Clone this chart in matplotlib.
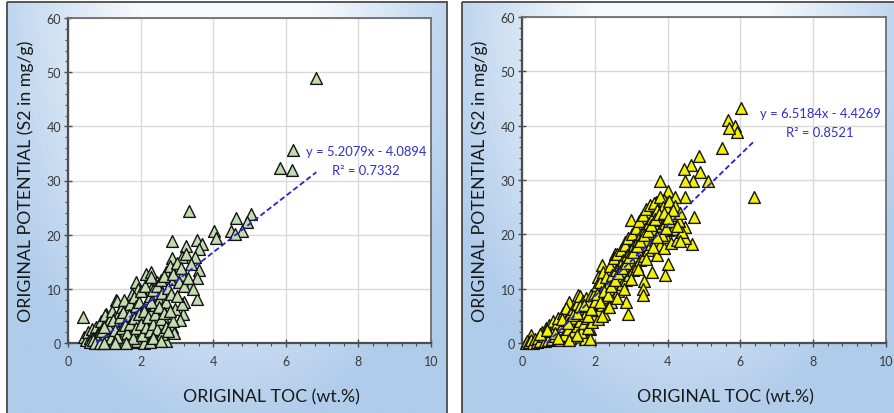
import numpy as np
import matplotlib
matplotlib.use("Agg")
import matplotlib.pyplot as plt
from matplotlib.patches import Rectangle

plt.rcParams['font.family'] = ['Lato', 'DejaVu Sans']

# ---------------- data ----------------
left_x = [6.84, 6.21, 5.84, 6.16, 3.33, 5.03, 4.63, 4.94, 4.03, 4.08, 4.49, 4.80, 4.60,
          2.87, 3.54, 3.24, 3.70, 3.60, 2.87, 3.13, 3.51, 3.61, 3.54, 3.54, 3.20, 3.16,
          3.08, 2.87, 2.92, 2.69, 3.13, 3.36, 2.71, 2.80, 1.87, 2.16, 2.30, 2.44, 1.33,
          0.41, 1.04, 1.77, 2.30, 1.93,
          0.45, 0.50, 0.55, 0.60, 0.62, 0.65, 0.70, 0.72, 0.75, 0.78, 0.80, 0.82, 0.85,
          0.88, 0.90, 0.92, 0.95, 0.98, 1.00, 1.02, 1.05, 1.08, 1.10, 1.12, 1.15, 1.18,
          1.20, 1.22, 1.25, 1.28, 1.30, 1.32, 1.35, 1.38, 1.40, 1.42, 1.45, 1.48, 1.50,
          1.52, 1.55, 1.58, 1.60, 1.62, 1.65, 1.68, 1.70, 1.72, 1.75, 1.78, 1.80, 1.82,
          1.85, 1.88, 1.90, 1.92, 1.95, 1.98, 2.00, 2.02, 2.05, 2.08, 2.10, 2.12, 2.15,
          2.18, 2.20, 2.22, 2.25, 2.28, 2.30, 2.32, 2.35, 2.38, 2.40, 2.42, 2.45, 2.48,
          2.50, 2.52, 2.55, 2.58, 2.60, 2.62, 2.65, 2.70, 2.75, 2.80, 2.85, 2.90, 2.95,
          3.00, 3.05, 3.10, 3.15, 3.20, 3.25, 3.30, 3.40, 3.45,
          0.95, 1.15, 1.25, 1.40, 1.55, 1.75, 1.90, 2.10,
          1.05, 1.12, 1.18, 1.25, 1.30, 1.35, 1.42, 1.48, 1.52, 1.58, 1.62, 1.68, 1.72,
          1.78, 1.82, 1.88, 1.95, 2.00, 2.05, 2.10, 2.15, 2.20, 2.25, 2.30, 2.35, 2.40,
          2.45, 2.50, 2.55, 2.60, 2.65, 2.70, 0.70, 0.85, 0.95, 1.00, 0.60, 0.68, 0.75,
          0.88, 1.00, 1.30, 1.60, 2.25, 2.35, 2.55, 2.75, 2.90, 3.00, 2.80]
left_y = [49.0, 35.7, 32.3, 32.0, 24.3, 23.8, 23.0, 22.3, 20.6, 19.4, 20.6, 20.6, 20.2,
          18.8, 19.1, 18.0, 18.3, 17.3, 15.7, 15.9, 15.9, 13.4, 12.0, 8.2, 7.6, 5.4,
          4.2, 3.0, 1.8, 0.4, 12.5, 10.6, 13.1, 11.9, 11.2, 12.8, 13.1, 11.2, 8.0,
          4.8, 5.3, 9.1, 9.9, 10.0,
          1.2, 0.5, 2.0, 1.0, 0.3, 2.6, 1.5, 0.2, 0.8, 3.0, 0.1, 1.8, 0.5,
          2.4, 0.3, 4.0, 1.2, 3.3, 0.6, 5.2, 2.0, 0.2, 3.8, 1.0, 4.5, 2.6,
          0.4, 6.0, 3.2, 1.5, 4.8, 0.8, 7.8, 2.2, 5.5, 3.6, 0.3, 6.6, 4.1,
          2.0, 7.9, 5.0, 1.2, 3.0, 6.2, 4.4, 0.6, 7.2, 2.5, 5.6, 3.8, 8.5,
          1.5, 6.8, 4.6, 0.2, 7.6, 3.2, 5.8, 9.6, 2.0, 6.5, 4.2, 10.5, 0.8,
          7.4, 5.2, 3.0, 8.6, 12.2, 6.0, 1.2, 9.8, 4.5, 7.0, 0.5, 10.6, 5.8,
          8.0, 3.6, 11.6, 6.5, 9.2, 4.8, 12.4, 7.5, 10.2, 14.2, 9.0, 12.8, 6.2,
          14.8, 11.2, 13.8, 7.2, 10.6, 16.4, 12.0, 14.6, 10.0,
          0.0, 0.1, 0.0, 0.1, 0.0, 0.1, 0.3, 0.0,
          1.4, 2.8, 0.9, 4.2, 2.4, 1.2, 4.8, 2.8, 5.8, 3.4, 1.8, 5.2, 3.6,
          1.0, 4.6, 2.8, 5.4, 3.6, 1.4, 6.0, 3.0, 4.8, 2.2, 7.6, 3.6, 5.4,
          2.6, 6.6, 4.4, 1.6, 5.6, 3.0, 0.9, 1.6, 2.2, 3.0, 0.1, 0.6, 0.0,
          0.0, 0.0, 0.0, 0.0, 0.2, 0.9, 0.3, 2.2, 4.0, 8.6, 6.0]

right_x = [6.02, 5.66, 5.85, 5.91, 5.68, 5.50, 6.37, 4.85, 4.63, 4.45, 4.89, 5.10, 4.70,
           4.49, 3.80, 4.01, 4.47, 4.19, 3.68, 3.89, 4.72, 4.67, 4.48, 4.47, 4.01, 3.94,
           3.57, 3.36, 3.32, 3.32, 2.86, 2.92, 2.99, 3.27, 3.49, 2.83, 2.56, 2.19, 2.10,
           1.29, 1.54, 0.24, 1.88, 1.73, 1.88,
           0.10, 0.15, 0.20, 0.25, 0.30, 0.35, 0.40, 0.45, 0.50, 0.55, 0.60, 0.62, 0.65,
           0.70, 0.72, 0.75, 0.80, 0.82, 0.85, 0.90, 0.92, 0.95, 1.00, 1.02, 1.05, 1.10,
           1.12, 1.15, 1.20, 1.22, 1.25, 1.30, 1.32, 1.35, 1.40, 1.42, 1.45, 1.50, 1.52,
           1.55, 1.58, 1.60, 1.62, 1.65, 1.68, 1.70, 1.72, 1.75, 1.78, 1.80, 1.82, 1.85,
           1.88, 1.90, 1.92, 1.95, 1.98, 2.00, 2.02, 2.05, 2.08, 2.10, 2.12, 2.15, 2.18,
           2.20, 2.22, 2.25, 2.28, 2.30, 2.32, 2.35, 2.38, 2.40, 2.42, 2.45, 2.48, 2.50,
           2.52, 2.55, 2.58, 2.60, 2.62, 2.65, 2.68, 2.70, 2.72, 2.75, 2.78, 2.80, 2.82,
           2.85, 2.88, 2.90, 2.92, 2.95, 2.98, 3.00, 3.02, 3.05, 3.08, 3.10, 3.12, 3.15,
           3.18, 3.20, 3.22, 3.25, 3.28, 3.30, 3.32, 3.35, 3.38, 3.40, 3.42, 3.45, 3.48,
           3.50, 3.52, 3.55, 3.58, 3.60, 3.62, 3.65, 3.68, 3.70, 3.72, 3.75, 3.78, 3.80,
           3.82, 3.85, 3.88, 3.90, 3.92, 3.95, 3.98, 4.00, 4.05, 4.10, 4.12, 4.15, 4.20,
           4.25, 4.30, 4.35, 4.40,
           0.50, 0.70, 0.90, 1.00, 1.10, 1.25, 1.40, 1.50, 1.60, 1.70, 1.80, 1.90, 2.00,
           2.05, 2.15, 2.25, 2.35, 2.45, 2.55, 2.65, 2.75, 2.85, 2.95, 3.05, 3.15, 3.25,
           3.35, 3.45, 3.55, 3.65, 3.75, 3.85, 3.95, 4.05, 4.15, 4.25, 4.35, 3.40, 3.20,
           3.00, 2.80, 2.60, 2.40, 2.20, 3.60, 3.70, 3.90, 4.00, 1.30, 1.50]
right_y = [43.3, 41.0, 39.9, 38.8, 39.6, 35.9, 26.9, 34.4, 32.8, 32.1, 31.5, 29.8, 29.9,
           29.8, 29.8, 27.9, 26.9, 26.9, 26.0, 26.3, 23.2, 18.3, 19.3, 21.3, 14.6, 12.5,
           13.1, 11.4, 10.0, 8.8, 7.6, 5.4, 22.6, 23.0, 24.1, 18.6, 16.4, 14.3, 12.1,
           7.5, 8.9, 1.5, 2.6, 0.8, 0.8,
           0.0, 0.3, 0.1, 0.5, 0.0, 0.8, 0.2, 1.0, 0.4, 2.0, 1.2, 0.3, 2.8,
           1.6, 0.5, 3.4, 2.2, 0.8, 4.0, 2.8, 1.2, 3.6, 4.6, 2.0, 0.6, 3.2,
           5.6, 1.5, 4.2, 6.4, 2.6, 5.0, 1.0, 3.8, 6.2, 2.2, 4.6, 7.2, 3.2,
           5.4, 8.6, 4.0, 2.0, 6.4, 7.8, 3.6, 5.2, 8.2, 4.6, 6.8, 2.8, 7.6,
           5.6, 8.8, 3.8, 6.4, 9.0, 5.0, 7.4, 10.6, 4.4, 8.2, 6.0, 11.2, 9.4,
           7.0, 13.0, 5.4, 10.2, 8.4, 12.2, 6.6, 11.0, 9.2, 14.2, 7.6, 12.6, 10.0,
           15.6, 8.6, 13.4, 11.2, 16.4, 9.6, 14.4, 12.0, 17.2, 10.8, 15.2, 13.2, 18.0,
           11.6, 16.2, 14.2, 19.4, 12.6, 17.0, 15.0, 20.0, 13.4, 18.0, 16.0, 21.2, 14.2,
           19.0, 17.0, 22.4, 15.2, 20.0, 18.0, 23.6, 16.0, 21.0, 19.0, 24.6, 17.2, 22.0,
           20.0, 25.4, 18.2, 23.0, 21.0, 25.8, 19.0, 22.6, 16.2, 24.4, 20.4, 26.8, 18.0,
           23.2, 21.6, 25.0, 17.4, 22.0, 19.6, 24.6, 20.8, 26.2, 18.4, 23.6, 21.0, 25.2,
           19.0, 22.4, 24.0, 20.4,
           1.6, 2.4, 1.8, 1.0, 4.4, 3.6, 5.2, 5.6, 6.8, 7.0, 5.0, 6.2, 7.8,
           9.0, 7.6, 9.6, 8.8, 10.4, 11.6, 12.8, 13.8, 14.8, 15.8, 16.8, 17.8, 18.8,
           19.8, 20.6, 21.8, 22.8, 23.8, 19.8, 21.2, 22.4, 24.4, 21.6, 18.8, 15.4, 13.6,
           11.8, 10.0, 8.2, 6.6, 5.0, 17.6, 19.6, 24.0, 23.0, 0.6, 1.4]

left_fit = (5.2079, -4.0894, 0.7332)
right_fit = (6.5184, -4.4269, 0.8521)

x_ticks = [0, 2, 4, 6, 8, 10]
y_ticks = [0, 10, 20, 30, 40, 50, 60]
x_label = "ORIGINAL TOC (wt.%)"
y_label = "ORIGINAL POTENTIAL (S2 in mg/g)"

# ---------------- figure ----------------
W, H = 894, 414
fig = plt.figure(figsize=(W / 100, H / 100), dpi=100)

bg = fig.add_axes([0, 0, 1, 1], zorder=-10)
bg.axis('off')

top_c = np.array([0.97, 0.98, 0.99])
blue_c = np.array([0.69, 0.80, 0.92])


def panel_bg(x0, x1, y0, y1):
    nx, ny = 200, 200
    u = np.linspace(-1, 1, nx)[None, :]
    v = np.linspace(0, 1, ny)[:, None]
    a = np.sqrt((u * 0.9) ** 2 + (v * 1.0) ** 2) - 0.35
    a = np.clip(a / 0.7, 0, 1)
    img = top_c[None, None, :] * (1 - a[..., None]) + blue_c[None, None, :] * a[..., None]
    bg.imshow(img, extent=(x0, x1, y1, y0), aspect='auto', interpolation='bilinear')
    bg.add_patch(Rectangle((x0, y0), x1 - x0, y1 - y0 + 5, fill=False,
                           edgecolor='#4a4a4a', lw=1.3))


panel_bg(7, 447, 3, 416)
panel_bg(462, 897, 3, 416)
bg.set_xlim(0, W)
bg.set_ylim(H, 0)


def make_axes(rect, xs, ys, fit, face, txt_xy):
    ax = fig.add_axes(rect)
    ax.set_facecolor('white')
    ax.set_xlim(0, 10)
    ax.set_ylim(0, 60)
    ax.set_xticks(x_ticks)
    ax.set_yticks(y_ticks)
    ax.set_xticks(np.arange(0, 10.01, 0.4), minor=True)
    ax.set_yticks(np.arange(0, 60.01, 2), minor=True)
    ax.grid(True, which='major', color='#d9d9d9', lw=1.0, zorder=0)
    ax.set_axisbelow(True)
    for s in ['top', 'right']:
        ax.spines[s].set_color('#6e6e6e')
        ax.spines[s].set_linewidth(1.3)
    for s in ['left', 'bottom']:
        ax.spines[s].set_color('#4d4d4d')
        ax.spines[s].set_linewidth(1.6)
    ax.tick_params(which='major', direction='inout', length=6, width=1.0, color='#4d4d4d',
                   labelsize=9, labelcolor='#3a3a3a', pad=2)
    ax.tick_params(which='minor', direction='out', length=2.5, width=0.8, color='#4d4d4d')
    ax.tick_params(axis='x', which='major', pad=6)
    ax.set_xlabel(x_label, fontsize=12.8, color='#1a1a1a')
    ax.xaxis.set_label_coords(0.56, -0.165)
    ax.xaxis.label.set_va('center')
    ax.set_ylabel(y_label, fontsize=12.8, color='#1a1a1a', labelpad=9)

    ax.scatter(xs, ys, marker='^', s=72, facecolor=face, edgecolor='#141414',
               linewidths=1.0, zorder=3, clip_on=False)
    m, b, r2 = fit
    x0 = -b / m
    x1 = max(xs)
    ax.plot([x0, x1], [m * x0 + b, m * x1 + b], ls=(0, (3, 1.6)), color='#2222dd',
            lw=1.3, zorder=4)
    sign = '-' if b < 0 else '+'
    ax.text(txt_xy[0], txt_xy[1], f"y = {m:.4f}x {sign} {abs(b):.4f}",
            color='#2f2fcc', fontsize=9.4, ha='center', va='center', zorder=5)
    ax.text(txt_xy[0], txt_xy[1] - 3.5, f"R² = {r2:.4f}",
            color='#2f2fcc', fontsize=9.4, ha='center', va='center', zorder=5)
    return ax


make_axes([68 / W, 1 - 344 / H, (431 - 68) / W, (344 - 19) / H],
          left_x, left_y, left_fit, '#c2dcb0', (8.21, 35.4))
make_axes([522 / W, 1 - 344 / H, (886 - 522) / W, (344 - 18) / H],
          right_x, right_y, right_fit, '#f2f200', (8.19, 42.3))

fig.savefig('out.png', dpi=100)
